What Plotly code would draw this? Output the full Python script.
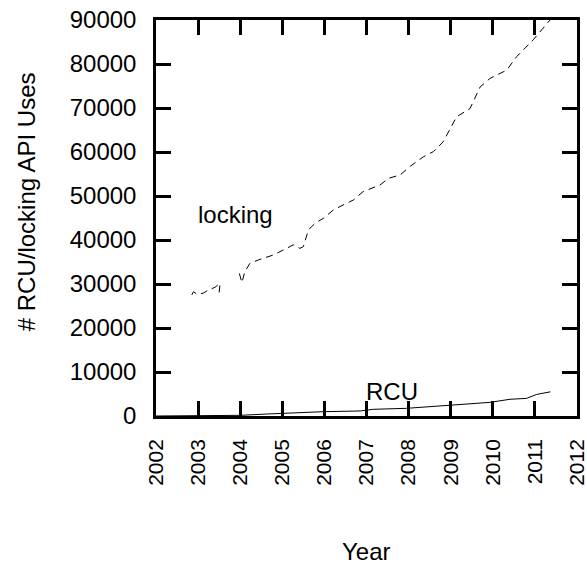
import plotly.graph_objects as go

# locking API uses (None = gap in data)
lock_year = [2002.85, 2002.89, 2002.97, 2003.12, 2003.24, 2003.40, 2003.52, 2003.50, None,
             2003.98, 2004.04, 2004.11, 2004.23, 2004.47, 2004.79, 2005.10, 2005.26, 2005.42,
             2005.50, 2005.62, 2005.78, 2005.97, 2006.21, 2006.37, 2006.69, 2006.92, 2007.32,
             2007.52, 2007.80, 2008.03, 2008.35, 2008.59, 2008.82, 2009.14, 2009.46, 2009.70,
             2009.93, 2010.33, 2010.57, 2010.96, 2011.36]
lock_uses = [27500, 28250, 27700, 27900, 28600, 29250, 30150, 28000, None,
             32400, 30300, 32800, 34700, 35600, 36600, 38100, 38900, 38100,
             38500, 42300, 43800, 44900, 46800, 47600, 49100, 51000, 52500,
             54000, 54800, 56700, 58900, 60100, 62300, 68000, 69900, 74800,
             76700, 78600, 81700, 85500, 90000]

# RCU API uses
rcu_year = [2002.0, 2002.9, 2003.5, 2004.0, 2004.63, 2005.97, 2006.85, 2007.16, 2007.95,
            2008.98, 2009.93, 2010.41, 2010.80, 2011.04, 2011.37]
rcu_uses = [0, 20, 50, 150, 450, 980, 1140, 1520, 1740,
            2500, 3100, 3800, 4000, 4900, 5500]

x_ticks = list(range(2002, 2013))
y_ticks = list(range(0, 90001, 10000))

FONT = "Liberation Sans, Arial, Helvetica, sans-serif"
FS = 24

fig = go.Figure()
fig.add_trace(go.Scatter(x=lock_year, y=lock_uses, mode="lines", connectgaps=False,
                         line=dict(color="black", width=1, dash="7px,5px"), showlegend=False))
fig.add_trace(go.Scatter(x=rcu_year, y=rcu_uses, mode="lines",
                         line=dict(color="black", width=1), showlegend=False))

fig.add_annotation(x=2003.88, y=45700, text="locking", showarrow=False,
                   xanchor="center", yanchor="middle",
                   font=dict(size=FS, color="black", family=FONT))
fig.add_annotation(x=2007.6, y=5500, text="RCU", showarrow=False,
                   xanchor="center", yanchor="middle",
                   font=dict(size=FS, color="black", family=FONT))
fig.add_annotation(xref="paper", yref="paper", x=0.499, y=-0.341, text="Year",
                   xanchor="center", yanchor="middle",
                   showarrow=False, font=dict(size=FS, color="black", family=FONT))
fig.add_annotation(xref="paper", yref="paper", x=-0.309, y=0.542,
                   text="# RCU/locking API Uses", textangle=-90,
                   xanchor="center", yanchor="middle",
                   showarrow=False, font=dict(size=FS, color="black", family=FONT))

axis_common = dict(showgrid=False, zeroline=False, showline=True, linecolor="black",
                   linewidth=2.5, mirror="allticks", ticks="inside", ticklen=15,
                   tickwidth=2.5, tickcolor="black", automargin=False,
                   ticklabelstandoff=12, ticklabeloverflow="allow")

fig.update_xaxes(range=[2002, 2012], tickvals=x_ticks, ticktext=[str(v) for v in x_ticks],
                 tickangle=-90, tickfont=dict(size=21, color="black", family=FONT),
                 **axis_common)
fig.update_yaxes(range=[0, 90000], tickvals=y_ticks, ticktext=[str(v) for v in y_ticks],
                 tickfont=dict(size=FS, color="black", family=FONT), **axis_common)

fig.update_layout(width=587, height=568, paper_bgcolor="white", plot_bgcolor="white",
                  margin=dict(l=156, r=10, t=20, b=152, autoexpand=False),
                  font=dict(family=FONT, color="black"))

# remove the browser's default 8px body margin so the figure sits at the page origin
fig.write_html("out.html", config={"displayModeBar": False},
               post_script="document.body.style.margin='0';")
